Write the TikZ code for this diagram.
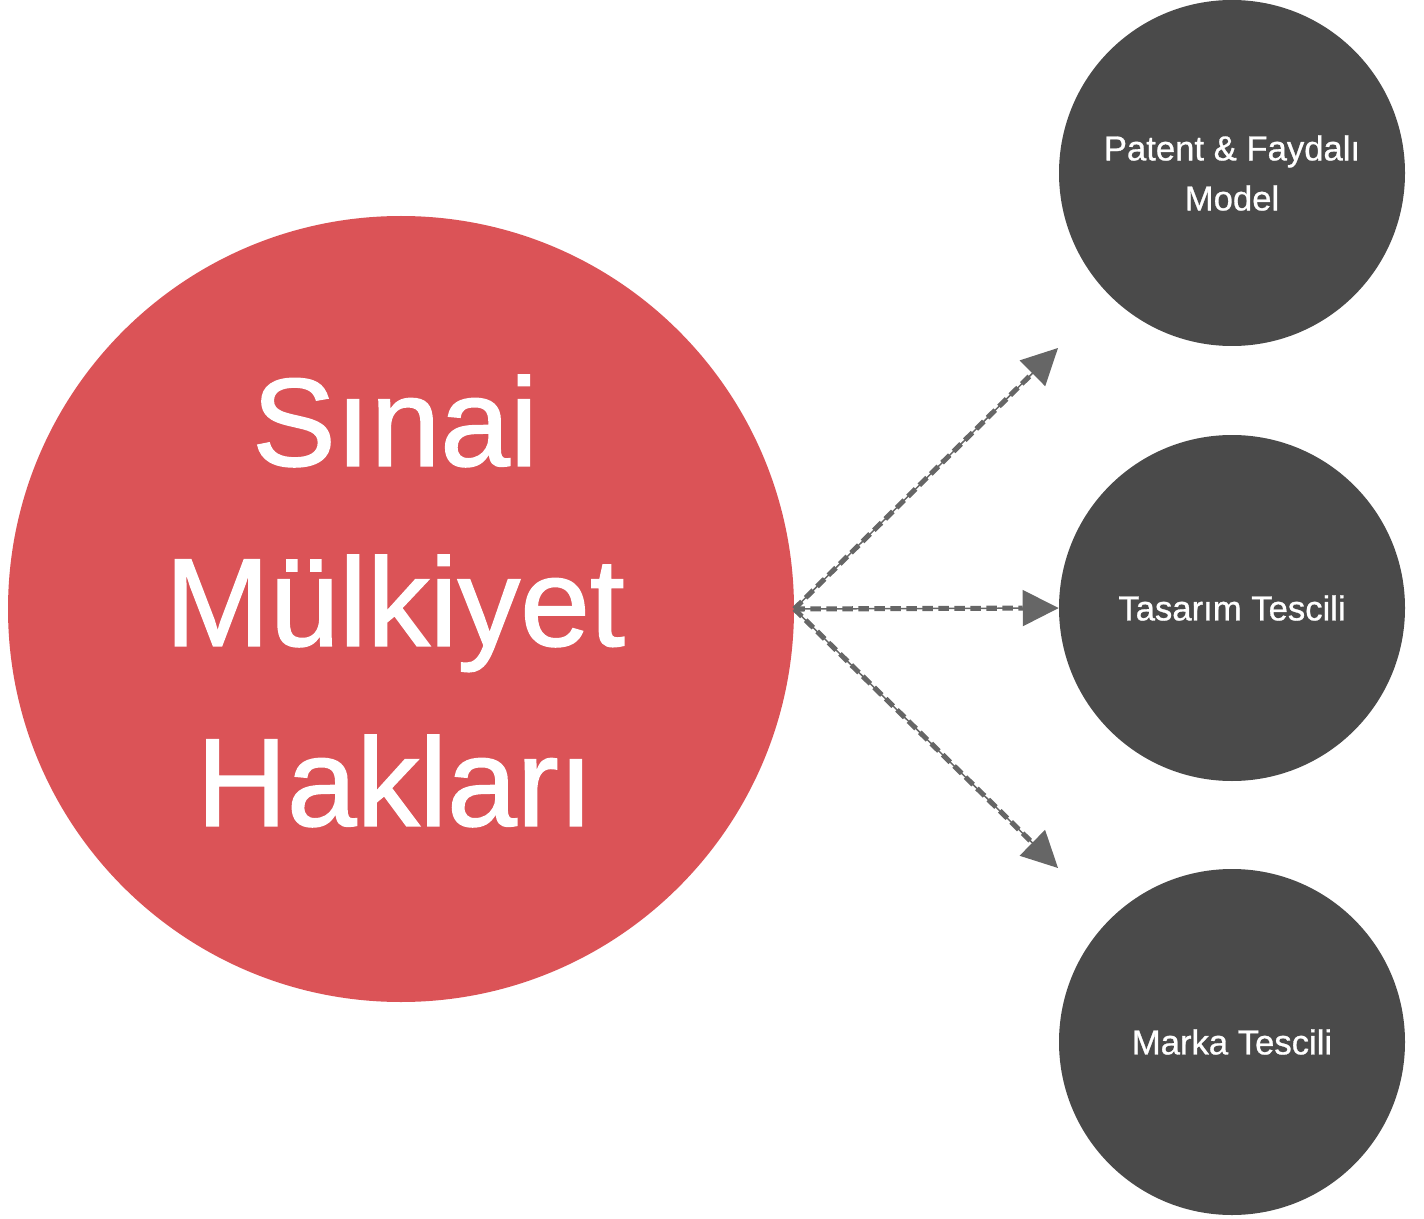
\documentclass[tikz,border=0pt]{standalone}
\usepackage{fontspec}
\setmainfont{Liberation Sans}
\newfontfamily\medfont{Liberation Sans}[FakeBold=1.2]
\newfontfamily\medfontsmall{Liberation Sans}[FakeBold=0.8]
\usetikzlibrary{arrows.meta}
\definecolor{mainred}{HTML}{DB5357}
\definecolor{darkgray}{HTML}{4A4A4A}
\definecolor{arrowgray}{HTML}{666666}
\tikzset{
  bigcircle/.style={circle, fill=mainred, draw=none, inner sep=0pt, minimum size=589.5pt},
  biglabel/.style={text=white, align=center, inner sep=0pt, font=\medfont\fontsize{94}{135}\selectfont},
  smallcircle/.style={circle, fill=darkgray, draw=none, inner sep=0pt, minimum size=259.5pt,
    text=white, align=center, font=\medfontsmall\fontsize{26}{37.5}\selectfont},
  linkthin/.style={draw=arrowgray, line width=1.1pt, -{Triangle[length=27pt,width=27pt]}},
  linkdash/.style={draw=arrowgray, line width=3.8pt, dash pattern=on 8pt off 4pt, shorten >=27pt},
}
\begin{document}
\begin{tikzpicture}[x=0.75pt,y=-0.75pt]
\useasboundingbox (0,0) rectangle (1424,1219);
\node[bigcircle] (main) at (401,609) {};
\node[biglabel] (mainlabel) at (395,601) {Sınai\\Mülkiyet\\Hakları};
\node[smallcircle] (patent) at (1232,173) {Patent \& Faydalı\\Model};
\node[smallcircle] (tasarim) at (1232,608) {Tasarım Tescili};
\node[smallcircle] (marka) at (1232,1042) {Marka Tescili};
\coordinate (src) at (main.east);
\coordinate (e1) at (1058,348);
\coordinate (e3) at (1058,868);
\foreach \t in {e1,tasarim.west,e3}{
  \draw[linkdash] (src) -- (\t);
  \draw[linkthin] (src) -- (\t);
}
\end{tikzpicture}
\end{document}
